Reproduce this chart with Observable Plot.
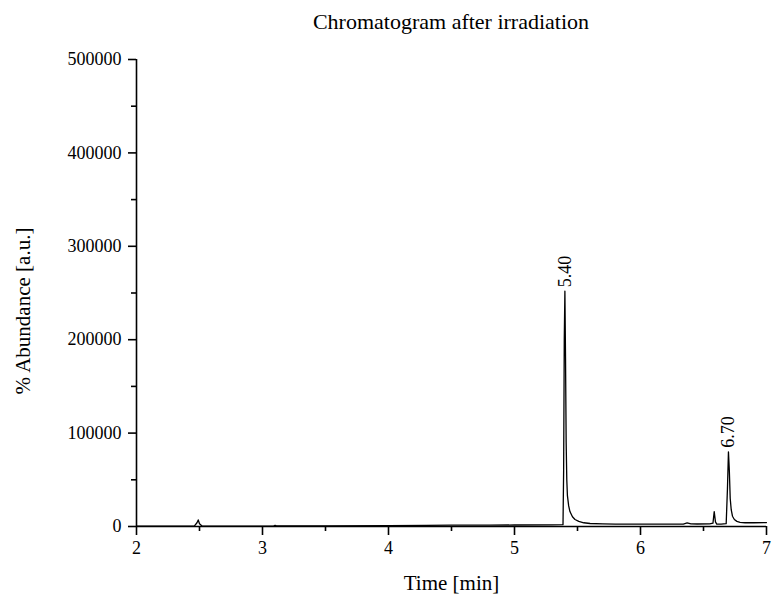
<!DOCTYPE html>
<html>
<head>
<meta charset="utf-8">
<script src="https://cdn.jsdelivr.net/npm/d3@7"></script>
<script src="https://cdn.jsdelivr.net/npm/@observablehq/plot@0.6"></script>
<style>
  html, body { margin: 0; padding: 0; background: #fff; }
  #wrap { width: 773px; height: 599px; position: relative; }
  #title { box-sizing: border-box; width: 773px; height: 42px; padding: 2px 7px 0 136px;
    line-height: 40px; text-align: center; font-family: "Liberation Serif", "Times New Roman", serif;
    font-size: 22px; color: #000; }
  svg { display: block; }
</style>
</head>
<body>
<div id="wrap">
  <div id="title">Chromatogram after irradiation</div>
  <div id="chart"></div>
</div>
<script>
// --- data ---
const timeMin = [2.00, 2.30, 2.46, 2.48, 2.49, 2.50, 2.52, 2.60, 3.00, 3.09, 3.10, 3.11, 3.50, 4.00, 4.30, 4.50, 4.80, 5.00, 5.30,
  5.385, 5.390, 5.395, 5.400, 5.405, 5.410, 5.415, 5.420, 5.430, 5.440, 5.460, 5.480, 5.510, 5.550, 5.600, 5.700, 5.800,
  6.000, 6.200, 6.340, 6.370, 6.400, 6.450, 6.550, 6.575, 6.585, 6.595, 6.605, 6.640, 6.680, 6.690, 6.698, 6.705, 6.712,
  6.720, 6.730, 6.745, 6.765, 6.790, 6.830, 6.900, 7.000];
const abundance = [500, 500, 600, 4000, 7000, 3000, 600, 500, 500, 600, 1200, 600, 700, 900, 1200, 1400, 1500, 1600, 1800,
  2000, 60000, 200000, 252000, 180000, 90000, 50000, 33000, 22000, 16000, 10500, 7500, 5500, 4000, 3200, 2800, 2600,
  2500, 2500, 2600, 3800, 2900, 2700, 2800, 3500, 16000, 5000, 2600, 2600, 3000, 40000, 80000, 60000, 30000,
  18000, 11000, 7500, 5500, 4500, 4000, 4000, 4200];
const peakTimes = [5.40, 6.698];
const peakHeights = [252000, 80000];
const peakLabels = ["5.40", "6.70"];
const xTicks = [2, 3, 4, 5, 6, 7];
const xMinorTicks = [2.5, 3.5, 4.5, 5.5, 6.5];
const yTicks = [0, 100000, 200000, 300000, 400000, 500000];
const yMinorTicks = [50000, 150000, 250000, 350000, 450000];
const xLabel = "Time [min]";
const yLabel = "% Abundance [a.u.]";

const trace = timeMin.map((t, i) => ({t, v: abundance[i]}));
const peaks = peakTimes.map((t, i) => ({t, v: peakHeights[i], label: peakLabels[i]}));

const sw = 1.6;
const chart = Plot.plot({
  width: 773,
  height: 557,
  marginTop: 17,
  marginBottom: 73,
  marginLeft: 136,
  marginRight: 7,
  style: {fontFamily: "'Liberation Serif', 'Times New Roman', serif", fontSize: "18px", color: "#000", background: "#fff"},
  x: {domain: [2, 7], axis: null},
  y: {domain: [0, 500000], axis: null},
  marks: [
    Plot.line(trace, {x: "t", y: "v", stroke: "#000", strokeWidth: 1.3}),
    Plot.ruleX([xTicks[0]], {y1: yTicks[0], y2: yTicks[yTicks.length - 1], stroke: "#000", strokeWidth: sw}),
    Plot.ruleY([yTicks[0]], {x1: xTicks[0], x2: xTicks[xTicks.length - 1], stroke: "#000", strokeWidth: sw}),
    Plot.axisX(xTicks, {tickSize: 9, tickPadding: 6, strokeWidth: sw, stroke: "#000", fill: "#000", label: null, tickFormat: d => String(d)}),
    Plot.axisX(xMinorTicks, {tickSize: 5, strokeWidth: sw, stroke: "#000", tickFormat: () => "", label: null}),
    Plot.axisY(yTicks, {tickSize: 8, tickPadding: 7, strokeWidth: sw, stroke: "#000", fill: "#000", label: null, tickFormat: d => String(d)}),
    Plot.axisY(yMinorTicks, {tickSize: 5, strokeWidth: sw, stroke: "#000", tickFormat: () => "", label: null}),
    Plot.text(peaks, {x: "t", y: "v", text: "label", rotate: -90, textAnchor: "start", dy: -4, fill: "#000", fontSize: 18}),
    Plot.text([xLabel], {frameAnchor: "bottom", dy: 63, fontSize: 21, fill: "#000"}),
    Plot.text([yLabel], {frameAnchor: "left", textAnchor: "middle", rotate: -90, dx: -113, dy: 18, fontSize: 21, fill: "#000"})
  ]
});
document.getElementById("chart").appendChild(chart);
</script>
</body>
</html>
